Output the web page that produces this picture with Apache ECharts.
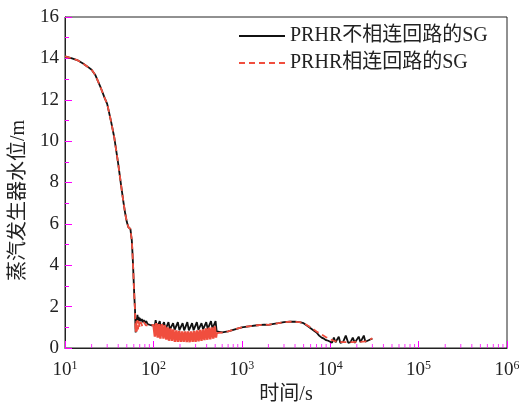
<!DOCTYPE html>
<html>
<head>
<meta charset="utf-8">
<title>SG water level</title>
<script src="https://cdn.jsdelivr.net/npm/echarts@6/dist/echarts.min.js"></script>
<style>
  html, body { margin: 0; padding: 0; background: #fff; }
  #chart { width: 519px; height: 404px; }
</style>
</head>
<body>
<div id="chart"></div>
<script>
// series names
const nameA = 'PRHR不相连回路的SG';
const nameB = 'PRHR相连回路的SG';

// shared early part (both curves overlap), time in s, level in m
const headTime = [10, 12, 14, 16, 18, 20, 22, 25, 28, 30, 33, 36, 40, 43, 46, 48, 50, 52, 54, 55, 56, 57, 58, 59, 60, 61, 62, 62.5, 63];
const headLevel = [14.1, 14.0, 13.9, 13.75, 13.6, 13.45, 13.2, 12.65, 12.1, 11.8, 11.0, 10.2, 8.9, 7.9, 7.0, 6.5, 6.1, 5.85, 5.85, 5.75, 5.45, 5.2, 4.6, 3.9, 3.1, 2.4, 1.8, 1.2, 0.75];

// black curve after the drop
const timeA = [63.5, 64, 65, 66, 67, 68, 69, 70, 72, 74, 76, 78, 80, 83, 86, 90, 94, 98,
  100, 103, 106, 110, 114, 118, 122, 127, 132, 137, 142, 148, 154, 160, 167, 174, 181, 189, 197, 205, 214, 223, 232, 242, 252, 263, 274, 285, 297, 310, 323, 336, 350, 365, 380, 396, 412, 430, 448, 466, 485, 505, 520,
  540, 600, 700, 800, 1000, 1200, 1500, 1800, 2000, 2300, 2600, 3000, 3500, 4000, 4500, 5000, 5600, 6000, 6500, 7000, 7500, 8000, 8500, 9000, 9500, 10000,
  10500, 11000, 11500, 12000, 12500, 13000, 14000, 15000, 16000, 17000, 18000, 19000, 20000, 21000, 22000, 23000, 24000, 25000, 26000, 28000, 30000];
const levelA = [1.1, 1.45, 1.3, 1.6, 1.25, 1.5, 1.3, 1.45, 1.3, 1.4, 1.25, 1.35, 1.2, 1.3, 1.15, 1.2, 1.1, 1.1,
  1.1, 1.0, 1.35, 1.0, 0.95, 1.3, 0.95, 0.95, 1.25, 0.9, 0.92, 1.25, 0.9, 0.88, 1.2, 0.88, 0.86, 1.25, 0.86, 0.85, 1.2, 0.85, 0.85, 1.25, 0.85, 0.86, 1.2, 0.86, 0.87, 1.25, 0.88, 0.9, 1.2, 0.9, 0.9, 1.25, 0.92, 0.95, 1.3, 0.95, 0.98, 1.3, 0.8,
  0.72, 0.75, 0.8, 0.88, 1.0, 1.05, 1.1, 1.13, 1.12, 1.17, 1.2, 1.25, 1.27, 1.27, 1.25, 1.2, 1.05, 0.95, 0.85, 0.75, 0.6, 0.5, 0.45, 0.38, 0.35, 0.3,
  0.25, 0.5, 0.28, 0.3, 0.55, 0.25, 0.3, 0.6, 0.25, 0.28, 0.5, 0.25, 0.3, 0.55, 0.28, 0.3, 0.6, 0.3, 0.35, 0.4, 0.45];

// red dashed curve, before and after the oscillating band
const timeB1 = [63, 64, 65, 66, 67, 68, 70, 72, 75, 78, 82, 86, 90, 95, 100];
const levelB1 = [0.7, 1.3, 0.8, 1.35, 0.9, 1.3, 1.0, 1.25, 1.05, 1.25, 1.1, 1.15, 1.1, 1.1, 1.1];
const timeB2 = [520, 600, 700, 800, 1000, 1200, 1500, 1800, 2000, 2300, 2600, 3000, 3500, 4000, 4500, 5000, 5600, 6000, 6500, 7000, 7500, 8000, 9000, 10000, 11000, 12000, 14000, 16000, 18000, 20000, 22000, 25000, 28000, 30000];
const levelB2 = [0.72, 0.75, 0.8, 0.88, 1.0, 1.05, 1.1, 1.13, 1.12, 1.17, 1.2, 1.25, 1.27, 1.27, 1.25, 1.2, 1.08, 1.0, 0.9, 0.8, 0.72, 0.65, 0.52, 0.42, 0.35, 0.3, 0.28, 0.28, 0.28, 0.3, 0.3, 0.32, 0.4, 0.47];

// red oscillating band, 100 s - 520 s
const bandTime = [100, 104, 108, 112, 116, 120, 125, 130, 135, 140, 145, 150, 156, 162, 168, 175, 182, 189, 196, 204, 212, 220, 229, 238, 247, 257, 267, 278, 289, 300, 312, 324, 337, 350, 364, 378, 393, 408, 424, 440, 457, 475, 494, 510, 520];
const bandLevel = [1.15, 0.55, 1.2, 0.5, 1.15, 0.45, 1.15, 0.45, 1.1, 0.4, 1.0, 0.35, 0.95, 0.35, 0.9, 0.3, 0.85, 0.3, 0.82, 0.3, 0.8, 0.3, 0.8, 0.28, 0.8, 0.28, 0.8, 0.3, 0.82, 0.3, 0.85, 0.32, 0.88, 0.35, 0.9, 0.38, 0.95, 0.4, 0.98, 0.42, 1.0, 0.45, 1.05, 0.5, 0.75];

// minor ticks of the log time axis
const minorTickTimes = [20, 30, 40, 50, 60, 70, 80, 90,
  200, 300, 400, 500, 600, 700, 800, 900,
  2000, 3000, 4000, 5000, 6000, 7000, 8000, 9000,
  20000, 30000, 40000, 50000, 60000, 70000, 80000, 90000,
  200000, 300000, 400000, 500000, 600000, 700000, 800000, 900000];

const pairs = (t, v) => t.map((x, i) => [x, v[i]]);

const FONT = "'Liberation Serif', 'Noto Sans CJK SC', serif";
const INK = '#222';
const RED = '#f04e3e';
const TICK = '#ff00ff';

const chart = echarts.init(document.getElementById('chart'));

chart.setOption({
  animation: false,
  grid: {
    left: 65, top: 17, right: 12, bottom: 56,
    outerBoundsMode: 'none',
    show: true, borderColor: INK, borderWidth: 1, backgroundColor: 'transparent'
  },
  legend: {
    data: [nameA, nameB],
    orient: 'vertical',
    left: 233, top: 21,
    itemWidth: 46, itemHeight: 14, itemGap: 7,
    itemStyle: { opacity: 0 },
    textStyle: { fontFamily: FONT, fontSize: 20, color: INK }
  },
  xAxis: {
    type: 'log', logBase: 10, min: 10, max: 1000000,
    name: '时间/s', nameLocation: 'middle', nameGap: 36,
    nameTextStyle: { fontFamily: FONT, fontSize: 20, color: INK },
    axisLine: { show: true, lineStyle: { color: INK, width: 1 } },
    axisTick: { show: true, inside: true, length: 7, lineStyle: { color: TICK, width: 1 } },
    splitLine: { show: false },
    axisLabel: {
      margin: 12,
      color: INK,
      formatter: v => '{b|10}{s|' + Math.round(Math.log10(v)) + '}',
      rich: {
        b: { fontFamily: FONT, fontSize: 19, color: INK },
        s: { fontFamily: FONT, fontSize: 12, color: INK, verticalAlign: 'top', padding: [0, 0, 8, 0] }
      }
    }
  },
  yAxis: {
    type: 'value', min: 0, max: 16, interval: 2,
    name: '蒸汽发生器水位/m', nameLocation: 'middle', nameRotate: 90, nameGap: 33,
    nameTextStyle: { fontFamily: FONT, fontSize: 20, color: INK, padding: [0, 36, 0, 0] },
    axisLine: { show: true, lineStyle: { color: INK, width: 1 } },
    axisTick: { show: true, inside: true, length: 7, lineStyle: { color: TICK, width: 1 } },
    minorTick: { show: true, splitNumber: 2, length: 4, lineStyle: { color: TICK, width: 1 } },
    splitLine: { show: false },
    axisLabel: { margin: 6, fontFamily: FONT, fontSize: 19, color: INK }
  },
  series: [
    {
      name: nameA, type: 'line', symbol: 'none',
      data: pairs(headTime, headLevel).concat(pairs(timeA, levelA)),
      lineStyle: { color: '#111', width: 1.8 },
      itemStyle: { color: '#111' }
    },
    {
      name: nameB, type: 'line', symbol: 'none',
      data: pairs(headTime, headLevel).concat(pairs(timeB1, levelB1)),
      lineStyle: { color: RED, width: 1.8, type: [6, 4] },
      itemStyle: { color: RED }
    },
    {
      name: nameB, type: 'line', symbol: 'none',
      data: pairs(bandTime, bandLevel),
      lineStyle: { color: RED, width: 2.4 },
      itemStyle: { color: RED }
    },
    {
      name: nameB, type: 'line', symbol: 'none',
      data: pairs(timeB2, levelB2),
      lineStyle: { color: RED, width: 1.8, type: [6, 4] },
      itemStyle: { color: RED }
    },
    {
      // minor ticks along the bottom axis
      type: 'scatter', silent: true, clip: false, z: 5,
      symbol: 'rect', symbolSize: [1, 4], symbolOffset: [0, -2],
      itemStyle: { color: TICK },
      data: minorTickTimes.map(t => [t, 0])
    }
  ]
});
</script>
</body>
</html>
